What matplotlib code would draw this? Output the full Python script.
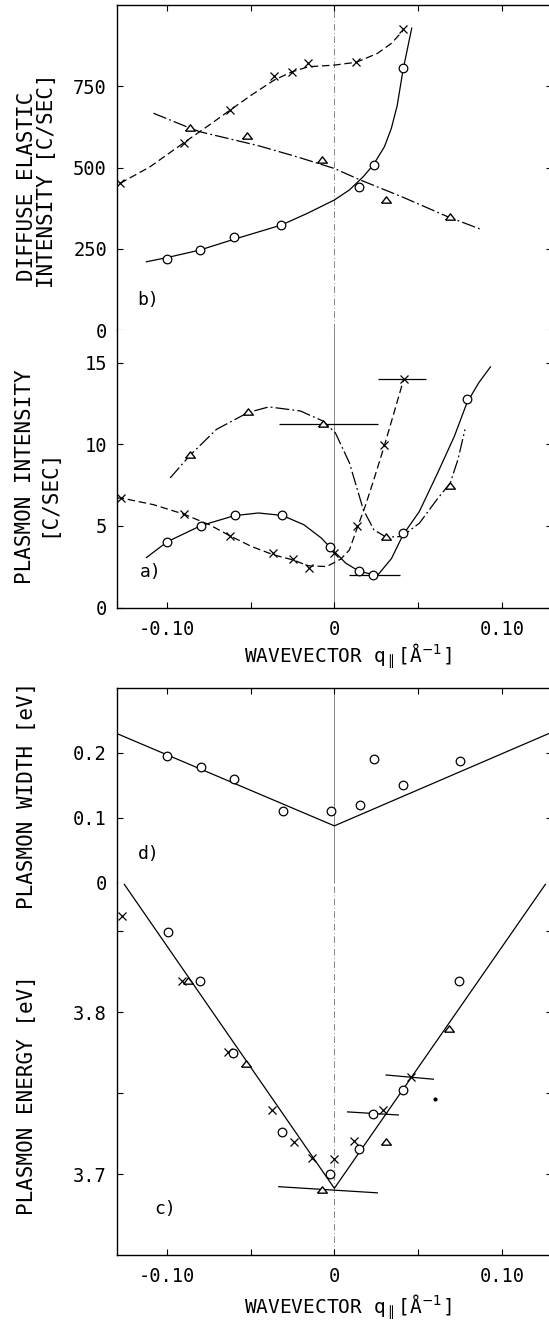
import numpy as np
import matplotlib
matplotlib.use("Agg")
import matplotlib.pyplot as plt

plt.rcParams["font.family"] = ["DejaVu Sans Mono", "DejaVu Sans"]
plt.rcParams["mathtext.fontset"] = "dejavusans"

# ==================================================
# b) diffuse elastic intensity [C/SEC]
# ==================================================
b_cross_q = [-0.1279, -0.0899, -0.0621, -0.0359, -0.0255, -0.0155, 0.0132, 0.0408]
b_cross_I = [451, 576, 677, 781, 794, 822, 824, 925]
b_circ_q = [-0.0997, -0.0803, -0.0600, -0.0316, 0.0148, 0.0234, 0.0410]
b_circ_I = [220, 246, 286, 323, 439, 509, 807]
b_tri_q = [-0.0861, -0.0520, -0.0073, 0.0309, 0.0690]
b_tri_I = [623, 598, 522, 400, 347]

# guide curves
b_cross_fit_q = [-0.128, -0.1101, -0.0899, -0.0746, -0.0621, -0.0495, -0.0359,
                 -0.0255, -0.0155, 0.0, 0.0132, 0.0257, 0.0341, 0.0408]
b_cross_fit_I = [451, 502, 576, 631, 677, 723, 769, 794, 810, 815, 824, 851, 882, 920]
b_circ_fit_q = [-0.1122, -0.0997, -0.0803, -0.0600, -0.0316, -0.0161, 0.0, 0.0090,
                0.0173, 0.0234, 0.0299, 0.0340, 0.0375, 0.0410, 0.0435, 0.0462]
b_circ_fit_I = [210, 223, 246, 279, 323, 359, 400, 431, 472, 509, 564, 620, 690, 800, 862, 929]
b_tri_fit_q = [-0.108, -0.0861, -0.0803, -0.0453, -0.0224, 0.0, 0.0153, 0.0403, 0.0675, 0.0874]
b_tri_fit_I = [667, 621, 610, 567, 533, 497, 462, 410, 349, 310]

# ==================================================
# a) plasmon intensity [C/SEC]
# ==================================================
a_circ_q = [-0.0997, -0.0798, -0.0596, -0.0311, -0.0027, 0.0148, 0.0232, 0.0410, 0.0792]
a_circ_I = [4.03, 5.01, 5.69, 5.64, 3.70, 2.22, 2.00, 4.56, 12.75]
a_cross_q = [-0.1273, -0.0899, -0.0625, -0.0364, -0.0249, -0.0153, 0.0, 0.0136, 0.0295, 0.0414]
a_cross_I = [6.71, 5.72, 4.40, 3.33, 3.00, 2.41, 3.33, 5.01, 9.95, 13.98]
a_tri_q = [-0.0861, -0.0516, -0.0067, 0.0309, 0.0692]
a_tri_I = [9.33, 12.00, 11.26, 4.31, 7.47]

# horizontal error bars: (q, I, q_low, q_high)
a_err_q = [0.0232, -0.0067, 0.0414]
a_err_I = [2.00, 11.26, 13.98]
a_err_lo = [0.0090, -0.0328, 0.0263]
a_err_hi = [0.0389, 0.0261, 0.0550]

a_circ_fit_q = [-0.1122, -0.0997, -0.0798, -0.0596, -0.0453, -0.0311, -0.0182, -0.0077,
                -0.0027, 0.0069, 0.0148, 0.0257, 0.0341, 0.0410, 0.0508, 0.0612,
                0.0717, 0.0792, 0.0863, 0.0932]
a_circ_fit_I = [3.06, 4.03, 5.01, 5.63, 5.79, 5.64, 5.07, 4.25, 3.70, 2.71, 2.22, 1.96,
                3.00, 4.45, 5.89, 8.14, 10.50, 12.55, 13.78, 14.74]
a_cross_fit_q = [-0.130, -0.1273, -0.108, -0.0899, -0.0746, -0.0625, -0.0495, -0.0364,
                 -0.0249, -0.0153, -0.0046, 0.0038, 0.0090, 0.0136, 0.0184, 0.0236,
                 0.0295, 0.0362, 0.0414]
a_cross_fit_I = [6.71, 6.71, 6.30, 5.72, 5.07, 4.40, 3.74, 3.23, 2.92, 2.55, 2.51, 2.96,
                 3.53, 4.86, 6.20, 7.84, 9.79, 12.14, 13.98]
a_tri_fit_q = [-0.098, -0.0861, -0.0704, -0.0516, -0.0391, -0.0203, -0.0067, 0.0006,
               0.0090, 0.0173, 0.0236, 0.0309, 0.0403, 0.0508, 0.0612, 0.0692, 0.0738, 0.0780]
a_tri_fit_I = [7.94, 9.33, 10.91, 11.94, 12.29, 12.04, 11.42, 10.70, 8.86, 5.99, 4.76,
               4.31, 4.35, 5.17, 6.61, 7.63, 9.07, 10.91]

# ==================================================
# d) plasmon width [eV]
# ==================================================
d_circ_q = [-0.0997, -0.0798, -0.0600, -0.0307, -0.0019, 0.0153, 0.0236, 0.0410, 0.0748]
d_circ_w = [0.195, 0.179, 0.160, 0.110, 0.110, 0.120, 0.191, 0.150, 0.188]
d_fit_q = [-0.130, 0.0, 0.130]
d_fit_w = [0.230, 0.0876, 0.232]

# ==================================================
# c) plasmon energy [eV]
# ==================================================
c_cross_q = [-0.1269, -0.0909, -0.0632, -0.0374, -0.0238, -0.0136, 0.0, 0.0117, 0.0288, 0.0460]
c_cross_E = [3.8592, 3.8194, 3.7755, 3.7398, 3.7198, 3.7102, 3.7096, 3.7204, 3.7398, 3.7602]
c_circ_q = [-0.0993, -0.0805, -0.0604, -0.0311, -0.0025, 0.0148, 0.0232, 0.0408, 0.0744]
c_circ_E = [3.8494, 3.8194, 3.7749, 3.7259, 3.7000, 3.7157, 3.7371, 3.7520, 3.8194]
c_tri_q = [-0.0871, -0.0525, -0.0073, 0.0309, 0.0685]
c_tri_E = [3.8194, 3.7678, 3.6902, 3.7200, 3.7898]
c_dot_q = [0.0602]
c_dot_E = [3.7463]

# slightly tilted error bars: start and end points
c_err_q0 = [-0.0332, 0.0079, 0.0309]
c_err_E0 = [3.6922, 3.7384, 3.7612]
c_err_q1 = [0.0257, 0.0382, 0.0591]
c_err_E1 = [3.6884, 3.7365, 3.7586]

c_fit_q = [-0.1254, 0.0, 0.126]
c_fit_E = [3.879, 3.6912, 3.879]

xticks = [-0.10, -0.05, 0.0, 0.05, 0.10]
xticklabels = ["-0.10", "", "0", "", "0.10"]

# ==================================================
# Styles
# ==================================================
W, H = 549, 1320
DASH = (0, (6, 3))
DASHDOT = (0, (11, 2.5, 1.5, 2.5))
GRID = dict(color="0.45", lw=0.6, ls=(0, (8, 3, 1, 3)), zorder=1)
TRI = [(-1.0, -0.55), (1.0, -0.55), (0.0, 0.75), (-1.0, -0.55)]

circ_kw = dict(ls="none", marker="o", ms=6.2, mfc="white", mec="black", mew=0.9, zorder=5)
cross_kw = dict(ls="none", marker="x", ms=6.0, color="black", mew=0.9, zorder=5)
tri_kw = dict(ls="none", marker=TRI, ms=7.0, mfc="white", mec="black", mew=1.0, zorder=5)


def fpos(top_px, bottom_px):
    left = 116.6 / W
    width = 0.26 * 1675 / W
    return [left, 1 - bottom_px / H, width, (bottom_px - top_px) / H]


def style_axes(ax, ylim, yticks, yticklabels, top, bottom, minor=None):
    ax.set_xlim(-0.13, 0.13)
    ax.set_ylim(*ylim)
    ax.set_xticks(xticks)
    ax.set_xticklabels(xticklabels if bottom else [""] * len(xticks))
    ax.set_yticks(yticks)
    ax.set_yticklabels(yticklabels)
    if minor is not None:
        ax.set_yticks(minor, minor=True)
    ax.tick_params(which="both", direction="in", length=4, width=0.8, right=True,
                   top=top, bottom=bottom, labelsize=13.5, pad=7)
    ax.tick_params(axis="x", pad=9)
    ax.spines["top"].set_visible(top)
    ax.spines["bottom"].set_visible(bottom)
    for s in ax.spines.values():
        s.set_linewidth(1.0)


fig = plt.figure(figsize=(W / 100, H / 100), dpi=100)

# ==================================================
# Panel b
# ==================================================
ax_b = fig.add_axes(fpos(5, 330))
style_axes(ax_b, (0, 1000), [0, 250, 500, 750], ["0", "250", "500", "750"], True, False)
ax_b.axvline(0, **GRID)
ax_b.axhline(0, clip_on=False, **GRID)
ax_b.plot(b_cross_fit_q, b_cross_fit_I, color="black", lw=0.9, ls=DASH)
ax_b.plot(b_circ_fit_q, b_circ_fit_I, color="black", lw=0.9)
ax_b.plot(b_tri_fit_q, b_tri_fit_I, color="black", lw=0.9, ls=DASHDOT)
ax_b.plot(b_cross_q, b_cross_I, **cross_kw)
ax_b.plot(b_circ_q, b_circ_I, **circ_kw)
ax_b.plot(b_tri_q, b_tri_I, **tri_kw)
ax_b.text(0.072, 0.092, "b)", transform=ax_b.transAxes, fontsize=13, ha="center", va="center")

# ==================================================
# Panel a
# ==================================================
ax_a = fig.add_axes(fpos(330, 607.5))
style_axes(ax_a, (0, 17), [0, 5, 10, 15], ["0", "5", "10", "15"], False, True)
ax_a.axvline(0, color="0.45", lw=0.6, zorder=1)
ax_a.plot(a_cross_fit_q, a_cross_fit_I, color="black", lw=0.9, ls=DASH)
ax_a.plot(a_circ_fit_q, a_circ_fit_I, color="black", lw=0.9)
ax_a.plot(a_tri_fit_q, a_tri_fit_I, color="black", lw=0.9, ls=DASHDOT)
ax_a.hlines(a_err_I, a_err_lo, a_err_hi, color="black", lw=0.9, zorder=4)
ax_a.plot(a_cross_q, a_cross_I, **cross_kw)
ax_a.plot(a_circ_q, a_circ_I, **circ_kw)
ax_a.plot(a_tri_q, a_tri_I, **tri_kw)
ax_a.text(0.078, 0.128, "a)", transform=ax_a.transAxes, fontsize=13, ha="center", va="center")

# ==================================================
# Panel d
# ==================================================
ax_d = fig.add_axes(fpos(688, 882.7))
style_axes(ax_d, (0, 0.3), [0, 0.1, 0.2], ["0", "0.1", "0.2"], True, False)
ax_d.axvline(0, color="0.45", lw=0.6, zorder=1)
ax_d.axhline(0, clip_on=False, **GRID)
ax_d.plot(d_fit_q, d_fit_w, color="black", lw=0.9)
ax_d.plot(d_circ_q, d_circ_w, **circ_kw)
ax_d.text(0.074, 0.147, "d)", transform=ax_d.transAxes, fontsize=13, ha="center", va="center")

# ==================================================
# Panel c
# ==================================================
ax_c = fig.add_axes(fpos(882.7, 1255))
style_axes(ax_c, (3.65, 3.88), [3.7, 3.8], ["3.7", "3.8"], False, True, minor=[3.75, 3.85])
ax_c.axvline(0, **GRID)
ax_c.plot(c_fit_q, c_fit_E, color="black", lw=0.9)
for q0, e0, q1, e1 in zip(c_err_q0, c_err_E0, c_err_q1, c_err_E1):
    ax_c.plot([q0, q1], [e0, e1], color="black", lw=0.9, zorder=4)
ax_c.plot(c_cross_q, c_cross_E, **cross_kw)
ax_c.plot(c_circ_q, c_circ_E, **circ_kw)
ax_c.plot(c_tri_q, c_tri_E, **tri_kw)
ax_c.plot(c_dot_q, c_dot_E, ls="none", marker="o", ms=2, color="black")
ax_c.text(0.112, 0.124, "c)", transform=ax_c.transAxes, fontsize=13, ha="center", va="center")

# ==================================================
# Axis titles
# ==================================================
def ftext(x, y, s, size=15, **kw):
    fig.text(x / W, 1 - y / H, s, ha="center", va="center", fontsize=size, **kw)


ftext(27, 186, "DIFFUSE ELASTIC", rotation=90)
ftext(47, 181, "INTENSITY [C/SEC]", rotation=90)
ftext(25, 477, "PLASMON INTENSITY", rotation=90)
ftext(48, 493, "[C/SEC]", rotation=90)
ftext(27, 795, "PLASMON WIDTH [eV]", rotation=90)
ftext(27, 1095, "PLASMON ENERGY [eV]", rotation=90)
ftext(348, 656, "WAVEVECTOR q$_{\\parallel}$[Å$^{-1}$]", size=14)
ftext(348, 1307, "WAVEVECTOR q$_{\\parallel}$[Å$^{-1}$]", size=14)

fig.savefig("out.png", dpi=100)
